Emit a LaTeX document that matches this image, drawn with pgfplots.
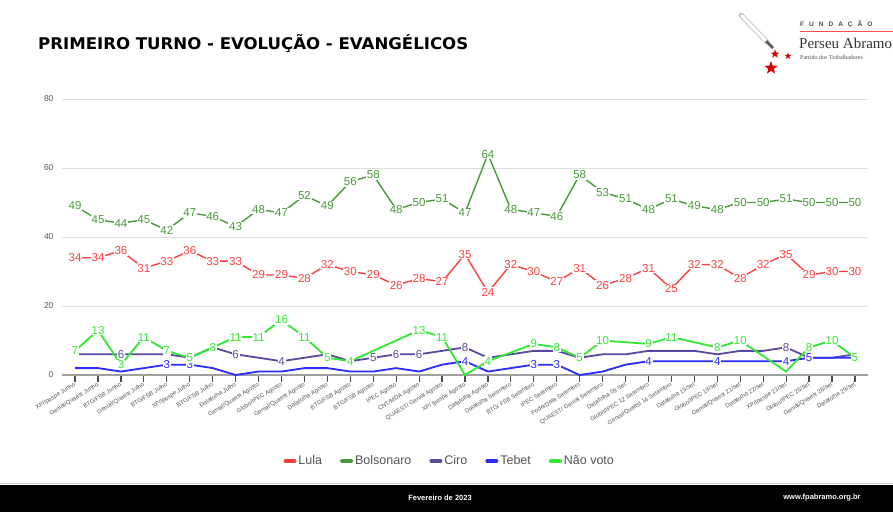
\documentclass[border=0pt]{standalone}
\usepackage{fontspec}
\setmainfont{Liberation Sans}
\newfontfamily\titlefont{DejaVu Sans}
\newfontfamily\logofont{Liberation Serif}
\usepackage{pgfplots}
\pgfplotsset{compat=1.18}
\usepackage{pgfplotstable}
\usetikzlibrary{shapes.geometric}

\definecolor{lula}{HTML}{FF4040}
\definecolor{bolso}{HTML}{489A38}
\definecolor{ciro}{HTML}{5A4A9E}
\definecolor{tebet}{HTML}{2B2BFF}
\definecolor{nao}{HTML}{33E833}
\definecolor{gridc}{HTML}{DDDDDD}
\definecolor{txtc}{HTML}{555555}

\pgfplotstableread{
x y
0 34
1 34
2 36
3 31
4 33
5 36
6 33
7 33
8 29
9 29
10 28
11 32
12 30
13 29
14 26
15 28
16 27
17 35
18 24
19 32
20 30
21 27
22 31
23 26
24 28
25 31
26 25
27 32
28 32
29 28
30 32
31 35
32 29
33 30
34 30
}\lula

\pgfplotstableread{
x y
0 49
1 45
2 44
3 45
4 42
5 47
6 46
7 43
8 48
9 47
10 52
11 49
12 56
13 58
14 48
15 50
16 51
17 47
18 64
19 48
20 47
21 46
22 58
23 53
24 51
25 48
26 51
27 49
28 48
29 50
30 50
31 51
32 50
33 50
34 50
}\bolso

\pgfplotstableread{
x y s
0 6 0
1 6 0
2 6 1
3 6 0
4 6 0
5 5 0
6 8 0
7 6 1
8 5 0
9 4 1
10 5 0
11 6 0
12 4 0
13 5 1
14 6 1
15 6 1
16 7 0
17 8 1
18 5 0
19 6 0
20 7 0
21 7 0
22 5 0
23 6 0
24 6 0
25 7 0
26 7 0
27 7 0
28 6 0
29 7 0
30 7 0
31 8 1
32 5 0
33 5 0
34 6 0
}\ciro

\pgfplotstableread{
x y s
0 2 0
1 2 0
2 1 0
3 2 0
4 3 1
5 3 1
6 2 0
7 0 0
8 1 0
9 1 0
10 2 0
11 2 0
12 1 0
13 1 0
14 2 0
15 1 0
16 3 0
17 4 1
18 1 0
19 2 0
20 3 1
21 3 1
22 0 0
23 1 0
24 3 0
25 4 1
26 4 0
27 4 0
28 4 1
29 4 0
30 4 0
31 4 1
32 5 1
33 5 0
34 5 0
}\tebet

\pgfplotstableread{
x y s
0 7 1
1 13 1
2 3 1
3 11 1
4 7 1
5 5 1
6 8 1
7 11 1
8 11 1
9 16 1
10 11 1
11 5 1
12 4 1
15 13 1
16 11 1
17 0 0
18 4 1
20 9 1
21 8 1
22 5 1
23 10 1
25 9 1
26 11 1
28 8 1
29 10 1
31 1 0
32 8 1
33 10 1
34 5 1
}\nao

\begin{document}
\begin{tikzpicture}[x=1pt,y=1pt]
\useasboundingbox (0,0) rectangle (893,512);
\fill[white] (0,0) rectangle (893,512);
\begin{scope}
\clip (0,0) rectangle (893,512);

% title
\node[anchor=base west, inner sep=0pt] at (38,462)
  {\resizebox{430pt}{15pt}{\titlefont\bfseries PRIMEIRO TURNO - EVOLUÇÃO - EVANGÉLICOS}};

% logo
\draw[line width=5pt, gray!45, line cap=round] (741,497) -- (767,470);
\draw[line width=3pt, white, line cap=round] (742,496) -- (766,471);
\draw[line width=2.5pt, gray!70!black] (766,471) -- (773,464);
\node[star, star points=5, star point ratio=2.4, fill=red!85!black, inner sep=0pt, minimum size=9pt] at (775,458) {};
\node[star, star points=5, star point ratio=2.4, fill=red!85!black, inner sep=0pt, minimum size=7pt] at (788,456) {};
\node[star, star points=5, star point ratio=2.4, fill=red!85!black, inner sep=0pt, minimum size=14pt] at (771,444) {};
\node[anchor=base west, inner sep=0pt, text=gray!60!black] at (800,485)
  {\fontsize{6.5}{7}\selectfont\bfseries F\hspace{5pt}U\hspace{5pt}N\hspace{5pt}D\hspace{5pt}A\hspace{5pt}Ç\hspace{5pt}Ã\hspace{5pt}O};
\draw[red!70, line width=0.8pt] (800,481) -- (893,481);
\node[anchor=base west, inner sep=0pt, text=black!80] at (799,463)
  {\logofont\fontsize{15}{16}\selectfont Perseu Abramo};
\node[anchor=base west, inner sep=0pt, text=black!70] at (800,452)
  {\logofont\fontsize{6}{7}\selectfont Partido dos Trabalhadores};

% footer
\draw[gray!40, line width=1pt] (0,28.5) -- (893,28.5);
\fill[black] (0,0) rectangle (893,27.5);
\node[text=white, inner sep=0pt] at (440,14) {\fontsize{7.5}{8}\selectfont\bfseries Fevereiro de 2023};
\node[text=white, inner sep=0pt] at (822,14) {\fontsize{7.5}{8}\selectfont\bfseries www.fpabramo.org.br};

\begin{axis}[
  at={(62pt,137pt)}, anchor=south west,
  scale only axis, width=806pt, height=276pt,
  xmin=-0.57, xmax=34.57, ymin=0, ymax=80,
  clip=false,
  axis x line*=bottom, axis y line*=left,
  y axis line style={draw=none},
  x axis line style={draw=gray!75, line width=1.6pt},
  ytick={0,20,40,60,80},
  ymajorgrids, grid style={gridc, line width=0.9pt},
  major y tick style={draw=none},
  yticklabel style={text=txtc, font=\fontsize{8.5}{9}\selectfont, xshift=2pt},
  /pgf/number format/assume math mode=true,
  xtick={0,...,34},
  tick align=outside,
  major x tick style={draw=black!70, line width=1.2pt},
  major tick length=7pt,
  xticklabels={XP/Ipespe Junho, Genial/Quaest Junho, BTG/FSB Junho, Genial/Quaest Julho, BTG/FSB Julho, XP/Ipespe Julho, BTG/FSB Julho, Datafolha Julho, Genial/Quaest Agosto, Globo/IPEC Agosto, Genial/Quaest Agosto, Datafolha Agosto, BTG/FSB Agosto, BTG/FSB Agosto, IPEC Agosto, CNT/MDA Agosto, QUAEST/ Genial Agosto, XP/ Ipespe Agosto, Datafolha Agosto, Datafolha Setembro, BTG/ FSB Setembro, IPEC Setembro, PoderData Setembro, QUAEST/ Genial Setembro, Datafolha 09 Set, Globo/IPEC 12 Setembro, Genial/Quaest 14 Setembro, Datafolha 15/set, Globo/IPEC 19/set, Genial/Quaest 21/set, Datafolha 22/set, XP/Ipespe 23/set, Globo/IPEC 26/set, Genial/Quaest 28/set, Datafolha 29/set},
  xticklabel style={rotate=32, anchor=north east, text=txtc, font=\fontsize{6}{6.5}\selectfont, inner sep=1pt, yshift=2pt},
  legend style={at={(0.481,-0.312)}, anchor=center, draw=none, fill=none,
    legend columns=5, font=\fontsize{12.5}{13}\selectfont, text=txtc,
    /tikz/every even column/.append style={column sep=16pt}},
  legend image code/.code={\draw[line width=4pt, line cap=round, #1] (0pt,0pt) -- (9pt,0pt);},
  nodes near coords style={anchor=center, fill=white, inner sep=0.8pt, font=\fontsize{11.5}{12}\selectfont},
]
\addplot[lula, line width=1.4pt, mark=none] table[x=x,y=y]{\lula};
\addlegendentry{Lula}
\addplot[bolso, line width=1.4pt, mark=none] table[x=x,y=y]{\bolso};
\addlegendentry{Bolsonaro}
\addplot[ciro, line width=1.8pt, mark=none] table[x=x,y=y]{\ciro};
\addlegendentry{Ciro}
\addplot[tebet, line width=1.8pt, mark=none] table[x=x,y=y]{\tebet};
\addlegendentry{Tebet}
\addplot[nao, line width=1.8pt, mark=none] table[x=x,y=y]{\nao};
\addlegendentry{Não voto}

\addplot[draw=none, forget plot, nodes near coords, point meta=y, nodes near coords style={text=lula}] table[x=x,y=y]{\lula};
\addplot[draw=none, forget plot, nodes near coords, point meta=y, nodes near coords style={text=bolso}] table[x=x,y=y]{\bolso};
\addplot[draw=none, forget plot, unbounded coords=discard, nodes near coords, point meta=y, nodes near coords style={text=ciro}] table[x=x,y expr={\thisrow{s}>0.5 ? \thisrow{y} : nan}]{\ciro};
\addplot[draw=none, forget plot, unbounded coords=discard, nodes near coords, point meta=y, nodes near coords style={text=tebet}] table[x=x,y expr={\thisrow{s}>0.5 ? \thisrow{y} : nan}]{\tebet};
\addplot[draw=none, forget plot, unbounded coords=discard, nodes near coords, point meta=y, nodes near coords style={text=nao}] table[x=x,y expr={\thisrow{s}>0.5 ? \thisrow{y} : nan}]{\nao};
\end{axis}
\end{scope}
\end{tikzpicture}
\end{document}
